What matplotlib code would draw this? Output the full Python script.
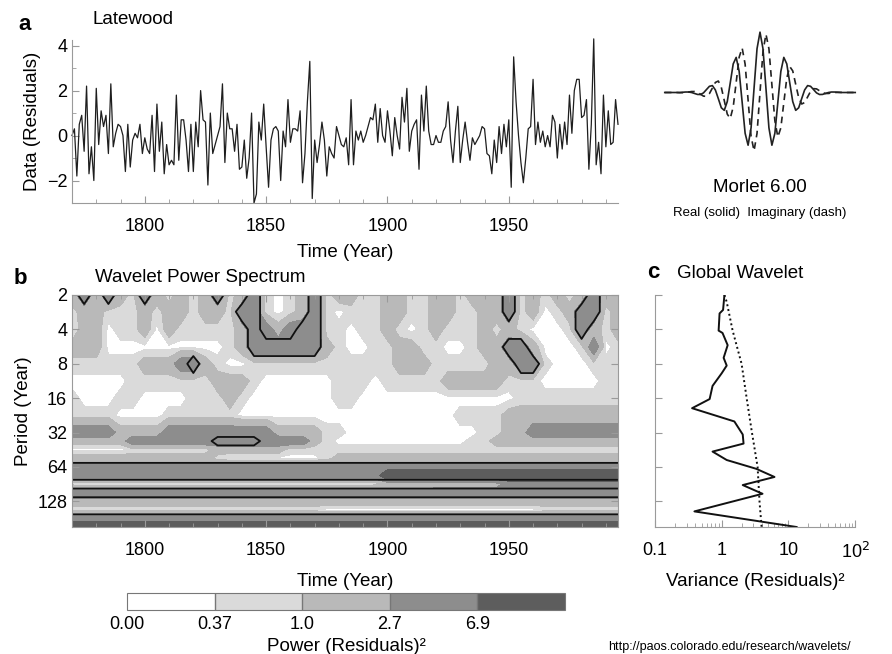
import numpy as np
import matplotlib
matplotlib.use("Agg")
import matplotlib.pyplot as plt
from matplotlib.ticker import MultipleLocator, FixedLocator, NullLocator, LogLocator, NullFormatter

plt.rcParams['font.family'] = ['Liberation Sans', 'DejaVu Sans']

# ---------------- data ----------------
# (a) latewood residual series, one value per year from 1770
first_year = 1770
latewood = [
    0.0, 0.3, -1.8, 0.5, 0.9, -0.7, 2.2, -1.7, -0.5, -2.0,
    2.1, -0.4, 1.1, 0.4, 0.9, -0.8, 2.3, -0.5, 0.1, 0.5,
    0.4, 0.0, -1.6, 0.5, -1.4, -0.2, 0.1, -0.1, 0.5, -0.8,
    -0.1, -0.6, -0.8, 0.9, -1.6, 1.4, -0.7, 0.6, -1.7, -0.4,
    -1.3, -1.1, -1.3, 1.8, -1.1, 0.7, 0.7, -0.2, -1.6, 0.5,
    -1.6, 0.6, -0.5, 2.0, 0.7, 0.6, -2.2, 1.0, -0.8, -0.4,
    0.0, 0.4, 2.3, -1.2, 1.0, 0.3, 0.3, -0.7, 0.5, -1.5,
    -1.4, -0.2, -1.9, -1.0, 1.0, -3.0, -2.6, 0.6, -0.2, 1.4,
    -0.5, -2.3, -0.2, 0.3, 0.4, 0.2, -2.0, 0.2, -0.5, 1.6,
    -0.3, 0.3, 0.3, 0.2, 1.1, -2.1, -0.8, 1.5, 3.3, -2.8,
    -0.2, -1.2, -0.4, 0.6, -0.2, -1.8, -0.5, -0.8, -1.0, 0.4,
    0.0, -0.4, -0.5, -0.1, -1.3, 1.6, -1.3, 0.2, -0.2, 0.2,
    -0.3, 0.0, 0.4, 0.8, 0.7, 1.4, -0.3, 1.2, 0.0, -0.3,
    1.1, 0.2, -0.9, 0.8, 0.0, -0.6, 1.7, 0.6, 2.1, -0.7,
    0.2, 0.5, 0.7, -1.5, 1.8, 0.2, 2.2, 0.2, -0.4, -0.4,
    0.0, -0.3, -0.3, 0.2, 0.4, 1.5, -0.2, -1.2, 0.2, 1.3,
    -1.2, -0.2, 0.6, -0.3, -1.1, -0.1, -0.4, -0.2, 0.0, 0.4,
    0.3, -0.8, -0.9, -1.7, -0.2, -1.2, 0.4, -0.8, 0.5, -0.5,
    0.7, -2.3, 3.5, 1.5, 0.0, -1.2, -2.1, -1.0, 0.3, 0.4,
    2.5, -0.4, 0.6, -0.3, 0.2, -0.5, 0.0, -0.5, 0.9, 0.6,
    -1.0, 0.5, -0.6, 0.6, -0.4, 1.8, 0.1, 2.0, 2.5, 2.5,
    0.8, 0.9, 1.6, -1.5, 0.5, 4.3, -1.3, -0.3, -1.7, 1.8,
    -0.5, 1.1, -0.4, -0.3, 1.6, 0.5,
]
years = np.arange(first_year, first_year + len(latewood))

# Morlet 6.00 inset (t = -4 .. 4 in steps of 0.125)
morlet_t = np.arange(-4, 4.0001, 0.125)
morlet_real = [
    0, 0, 0, 0, 0, 0, 0.003, 0.006, 0.006, 0.000, -0.012, -0.024, -0.025,
    -0.005, 0.036, 0.077, 0.086, 0.032, -0.077, -0.190, -0.222, -0.113,
    0.119, 0.356, 0.437, 0.262, -0.120, -0.507, -0.656, -0.440, 0.052,
    0.545, 0.751, 0.545, 0.052, -0.440, -0.656, -0.507, -0.120, 0.262,
    0.437, 0.356, 0.119, -0.113, -0.222, -0.190, -0.077, 0.032, 0.086,
    0.077, 0.036, -0.005, -0.025, -0.024, -0.012, 0.000, 0.006, 0.006,
    0.003, 0, 0, 0, 0, 0, 0,
]
morlet_imag = [
    0, 0, 0, 0, 0, -0.002, -0.002, 0.001, 0.006, 0.012, 0.012, 0.001,
    -0.021, -0.045, -0.048, -0.014, 0.055, 0.125, 0.143, 0.064, -0.101,
    -0.269, -0.323, -0.180, 0.127, 0.440, 0.554, 0.353, -0.094, -0.545,
    -0.726, -0.508, 0.0, 0.508, 0.726, 0.545, 0.094, -0.353, -0.554,
    -0.440, -0.127, 0.180, 0.323, 0.269, 0.101, -0.064, -0.143, -0.125,
    -0.055, 0.014, 0.048, 0.045, 0.021, -0.001, -0.012, -0.012, -0.006,
    -0.001, 0.002, 0.002, 0, 0, 0, 0, 0,
]

# (b) wavelet power, read as shade classes on a 5-year x period grid
# 0 white, 1 light, 2 medium, 3 dark, 4 darkest, 5 dark + inside 95% contour
spec_years = np.arange(1770, 1996, 5)
spec_periods = [2, 2.8, 4, 5.7, 8, 11.3, 16, 22.6, 32, 38, 45, 54,
                64, 76, 90, 108, 128, 152, 181, 215]
spec_rows = [
    "25252" "15212" "12512" "51012" "51221" "12211" "22122" "25121" "21252" "2",
    "12211" "12122" "12215" "51012" "51011" "12211" "22112" "25120" "12551" "2",
    "02201" "12021" "11112" "53235" "51101" "12101" "21112" "12100" "01521" "2",
    "22200" "00000" "00012" "55555" "52100" "11221" "10012" "25520" "00130" "1",
    "11111" "12223" "52100" "11111" "11111" "11222" "11111" "22551" "00011" "1",
    "00000" "11111" "11222" "10000" "00111" "01111" "12222" "21110" "00001" "1",
    "10001" "10000" "11121" "00000" "00110" "00000" "00000" "00111" "11111" "1",
    "11110" "00011" "11110" "00000" "00000" "00000" "00111" "12222" "22222" "2",
    "33332" "22233" "33333" "33222" "21100" "00000" "00001" "12233" "33333" "3",
    "22222" "33333" "33555" "53333" "21000" "00000" "00011" "22222" "22222" "2",
    "00000" "11111" "11222" "22211" "11111" "11111" "11111" "11111" "11111" "1",
    "22222" "22222" "22100" "00000" "01222" "22222" "22222" "22222" "22222" "2",
    "55555" "55555" "55555" "55555" "55555" "55555" "55555" "55555" "55555" "5",
    "55555" "55555" "55555" "55555" "55555" "54444" "44444" "44444" "44444" "4",
    "10000" "00000" "00000" "00000" "00000" "11111" "22222" "23333" "33333" "3",
    "55555" "55555" "55555" "55555" "55555" "55555" "55555" "55555" "55555" "5",
    "22222" "22222" "22222" "22222" "22222" "22222" "22222" "22222" "22222" "2",
    "11111" "11111" "11111" "11111" "10000" "00000" "00000" "00001" "11111" "1",
    "55555" "55555" "55555" "55555" "55555" "55555" "55555" "55555" "55555" "5",
    "44444" "44444" "44444" "44444" "44444" "44444" "44444" "44444" "44444" "4",
]
class_power = {'0': 0.2, '1': 0.6, '2': 1.6, '3': 4.3, '4': 12.0, '5': 4.3}
significant = '45'

power_levels = [0, 0.37, 1.0, 2.7, 6.9, 100]
power_labels = ['0.00', '0.37', '1.0', '2.7', '6.9']
power_colors = ['#ffffff', '#dadada', '#b9b9b9', '#8d8d8d', '#5d5d5d']

# (c) global wavelet spectrum and its 95% significance level
gws_period = [2.0, 2.7, 2.9, 4.1, 4.3, 5.5, 7.1, 8.3, 9.7, 12.5, 16.3, 19.6,
              25.6, 33.3, 40.0, 47.0, 55.7, 66.5, 78.4, 92.3, 110, 157, 215]
gws_power = [1.1, 1.05, 0.93, 0.90, 1.03, 1.23, 1.07, 1.19, 1.0, 0.73, 0.66,
             0.36, 1.55, 2.07, 2.13, 0.73, 1.19, 3.3, 6.2, 2.07, 4.1, 0.39, 13.3]
sig_period = [2.0, 2.3, 4.1, 8.0, 16, 31, 64, 130, 215]
sig_power = [1.1, 1.19, 1.46, 1.99, 2.37, 2.82, 3.46, 3.7, 3.97]

period_ticks = [2, 4, 8, 16, 32, 64, 128]

# ---------------- figure ----------------
W, H = 892, 654
fig = plt.figure(figsize=(W / 100, H / 100), dpi=100)
axis_grey = '#9a9a9a'


def box(left, top, right, bottom):
    return [left / W, 1 - bottom / H, (right - left) / W, (bottom - top) / H]


# panel a
ax_a = fig.add_axes(box(72, 40, 618, 203))
ax_a.plot(years, latewood, color='#1e1e1e', lw=0.9, clip_on=False)
ax_a.set_xlim(1770, 1995)
ax_a.set_ylim(-3, 4.25)
for s in ['top', 'right']:
    ax_a.spines[s].set_visible(False)
for s in ['left', 'bottom']:
    ax_a.spines[s].set_color(axis_grey)
ax_a.xaxis.set_major_locator(MultipleLocator(50))
ax_a.xaxis.set_minor_locator(MultipleLocator(10))
ax_a.yaxis.set_major_locator(MultipleLocator(2))
ax_a.yaxis.set_minor_locator(MultipleLocator(1))
ax_a.tick_params(which='both', direction='in', color=axis_grey, labelsize=13)
ax_a.tick_params(which='major', length=5)
ax_a.tick_params(which='minor', length=3)
ax_a.tick_params(axis='x', pad=11)
ax_a.set_xlabel('Time (Year)', fontsize=13.5, labelpad=6)
ax_a.set_ylabel('Data (Residuals)', fontsize=13.5, labelpad=4)
fig.text(25 / W, 1 - 25 / H, 'a', fontsize=16, fontweight='bold', ha='center', va='center')
fig.text(93 / W, 1 - 20 / H, 'Latewood', fontsize=13.5, ha='left', va='center')

# Morlet inset
ax_m = fig.add_axes(box(660, 25, 860, 160))
ax_m.plot(morlet_t, morlet_real, color='#222222', lw=1.2)
ax_m.plot(morlet_t, morlet_imag, color='#222222', lw=1.2, ls=(0, (4, 3)))
ax_m.set_xlim(-4.2, 4.2)
ax_m.set_ylim(-0.84, 0.84)
ax_m.axis('off')
fig.text(760 / W, 1 - 187 / H, 'Morlet 6.00', fontsize=13.5, ha='center', va='center')
fig.text(760 / W, 1 - 213 / H, 'Real (solid)  Imaginary (dash)', fontsize=9.5,
         ha='center', va='center')

# panel b
power = np.array([[class_power[c] for c in row] for row in spec_rows])
sig = np.array([[1.0 if c in significant else 0.0 for c in row] for row in spec_rows])

ax_b = fig.add_axes(box(72, 295, 618, 527))
cs = ax_b.contourf(spec_years, spec_periods, power, levels=power_levels, colors=power_colors)
ax_b.contour(spec_years, spec_periods, sig, levels=[0.5], colors='#111111', linewidths=1.3)
ax_b.set_yscale('log', base=2)
ax_b.set_ylim(215, 2)
ax_b.set_xlim(1770, 1995)
ax_b.yaxis.set_major_locator(FixedLocator(period_ticks))
ax_b.yaxis.set_minor_locator(NullLocator())
ax_b.set_yticklabels([str(p) for p in period_ticks])
ax_b.xaxis.set_major_locator(MultipleLocator(50))
ax_b.xaxis.set_minor_locator(MultipleLocator(10))
for s in ax_b.spines.values():
    s.set_color(axis_grey)
ax_b.tick_params(which='both', direction='in', top=True, right=True,
                 color=axis_grey, labelsize=13)
ax_b.tick_params(which='major', length=5)
ax_b.tick_params(which='minor', length=3)
ax_b.tick_params(axis='x', pad=11)
ax_b.set_xlabel('Time (Year)', fontsize=13.5, labelpad=10)
ax_b.set_ylabel('Period (Year)', fontsize=13.5, labelpad=4)
fig.text(20 / W, 1 - 278 / H, 'b', fontsize=16, fontweight='bold', ha='center', va='center')
fig.text(95 / W, 1 - 278 / H, 'Wavelet Power Spectrum', fontsize=13.5, ha='left', va='center')

# panel c
ax_c = fig.add_axes(box(655, 295, 855, 527))
ax_c.plot(gws_power, gws_period, color='#111111', lw=1.4)
ax_c.plot(sig_power, sig_period, color='#111111', lw=1.4, ls=(0, (1, 1.5)))
ax_c.set_xscale('log')
ax_c.set_yscale('log', base=2)
ax_c.set_xlim(0.1, 100)
ax_c.set_ylim(215, 2)
ax_c.yaxis.set_major_locator(FixedLocator(period_ticks))
ax_c.yaxis.set_minor_locator(NullLocator())
ax_c.yaxis.set_major_formatter(NullFormatter())
ax_c.xaxis.set_major_locator(FixedLocator([0.1, 1, 10, 100]))
ax_c.set_xticklabels(['0.1', '1', '10', '10$^2$'])
ax_c.xaxis.set_minor_locator(LogLocator(base=10, subs=np.arange(2, 10)))
ax_c.xaxis.set_minor_formatter(NullFormatter())
for s in ['top', 'right']:
    ax_c.spines[s].set_visible(False)
for s in ['left', 'bottom']:
    ax_c.spines[s].set_color(axis_grey)
ax_c.tick_params(which='both', direction='in', color=axis_grey, labelsize=13)
ax_c.tick_params(which='major', length=5)
ax_c.tick_params(which='minor', length=3)
ax_c.tick_params(axis='x', pad=11)
ax_c.set_xlabel('Variance (Residuals)²', fontsize=13.5, labelpad=8)
fig.text(653 / W, 1 - 272 / H, 'c', fontsize=16, fontweight='bold', ha='center', va='center')
fig.text(677 / W, 1 - 273 / H, 'Global Wavelet', fontsize=13.5, ha='left', va='center')

# colour bar
cax = fig.add_axes(box(127, 593, 565, 610))
cb = fig.colorbar(cs, cax=cax, orientation='horizontal', ticks=power_levels[:5],
                  drawedges=True)
cb.set_ticklabels(power_labels)
cb.ax.tick_params(length=0, labelsize=13, pad=4)
cb.outline.set_edgecolor('#777777')
cb.dividers.set_color('#777777')
cb.dividers.set_linewidth(1.0)
cb.set_label('Power (Residuals)²', fontsize=13.5, labelpad=4)

fig.text(608 / W, 1 - 647 / H, 'http://paos.colorado.edu/research/wavelets/',
         fontsize=9, ha='left', va='center')

fig.savefig('out.png', dpi=100)
